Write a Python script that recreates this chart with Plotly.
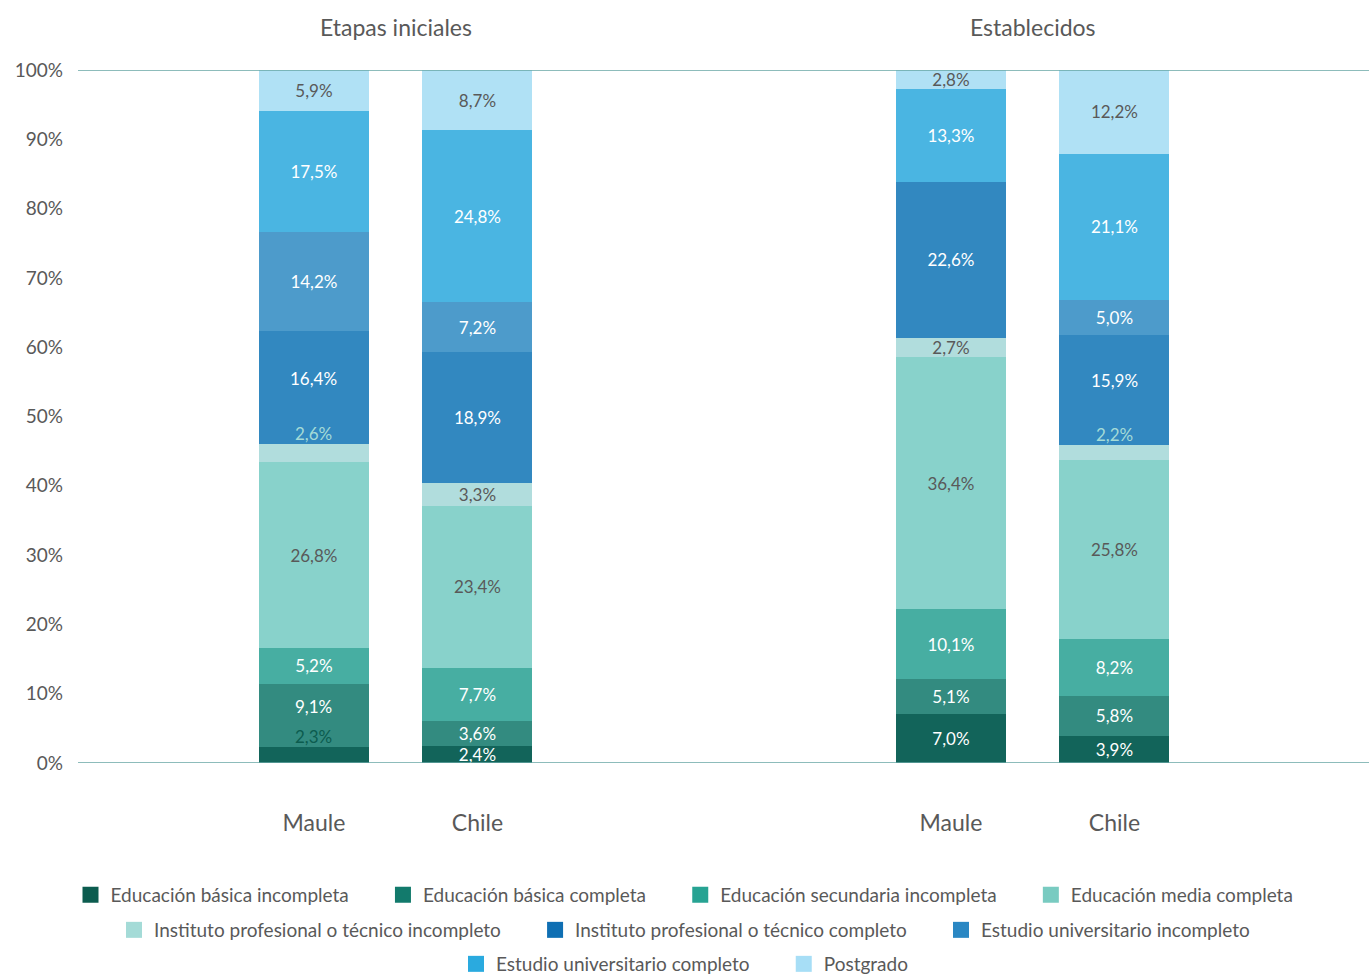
import plotly.graph_objects as go

# Education level of entrepreneurs by stage (percent of each bar)
categories = ["Maule", "Chile"]
groups = ["Etapas iniciales", "Establecidos"]
levels = [
    "Educación básica incompleta",
    "Educación básica completa",
    "Educación secundaria incompleta",
    "Educación media completa",
    "Instituto profesional o técnico incompleto",
    "Instituto profesional o técnico completo",
    "Estudio universitario incompleto",
    "Estudio universitario completo",
    "Postgrado",
]
etapas_maule = [2.3, 9.1, 5.2, 26.8, 2.6, 16.4, 14.2, 17.5, 5.9]
etapas_chile = [2.4, 3.6, 7.7, 23.4, 3.3, 18.9, 7.2, 24.8, 8.7]
estab_maule = [7.0, 5.1, 10.1, 36.4, 2.7, 22.6, 0.0, 13.3, 2.8]
estab_chile = [3.9, 5.8, 8.2, 25.8, 2.2, 15.9, 5.0, 21.1, 12.2]
y_ticks = [0, 10, 20, 30, 40, 50, 60, 70, 80, 90, 100]

# labels of thin segments that sit just above their segment: (group, category, level)
raised_labels = [(0, 0, 0), (0, 0, 4), (1, 1, 4)]

bar_colors = ["#12645a", "#338b80", "#47aea2", "#88d2cb", "#b1dddd",
              "#3288c0", "#4d9bcb", "#4ab5e2", "#b0e1f5"]
legend_colors = ["#0c5c4f", "#127a6c", "#27a393", "#79cbc1", "#a4dbd7",
                 "#0f6fb3", "#2a87c3", "#2aaadf", "#a7def6"]
light_text = [0, 1, 2, 5, 6, 7]
GRAY = "#595959"
FONT = "Lato"
LABEL_SIZE = 17


def fmt(v):
    return f"{v:.1f}".replace(".", ",") + "%"


group_data = [(etapas_maule, etapas_chile), (estab_maule, estab_chile)]
axes = [("x", "y"), ("x2", "y2")]

fig = go.Figure()
annotations = []
for g, (maule, chile) in enumerate(group_data):
    xa, ya = axes[g]
    # segments whose label moves up to clear a raised label below it
    nudged = {(c, i + 1) for (gg, c, i) in raised_labels if gg == g}
    for i, name in enumerate(levels):
        vals = [maule[i], chile[i]]
        texts = []
        for c, v in enumerate(vals):
            if v == 0 or (g, c, i) in raised_labels or (c, i) in nudged:
                texts.append("")
            else:
                texts.append(fmt(v))
        txt_color = "white" if i in light_text else GRAY
        fig.add_trace(go.Bar(
            x=categories, y=vals, name=name, xaxis=xa, yaxis=ya,
            marker=dict(color=bar_colors[i], line=dict(width=0)),
            text=texts, textposition="inside", insidetextanchor="middle",
            textangle=0,
            textfont=dict(family=FONT, size=LABEL_SIZE, color=txt_color),
            showlegend=False, hoverinfo="skip",
        ))
        for c in range(2):
            if (c, i) in nudged:
                seg = group_data[g][c]
                mid = sum(seg[:i]) + seg[i] / 2
                annotations.append(dict(
                    x=categories[c], y=mid, xref=xa, yref=ya, text=fmt(seg[i]),
                    showarrow=False, yanchor="middle", yshift=9,
                    font=dict(family=FONT, size=LABEL_SIZE, color=txt_color),
                ))
    for (gg, c, i) in raised_labels:
        if gg != g:
            continue
        vals = group_data[g][c]
        top = sum(vals[:i + 1])
        annotations.append(dict(
            x=categories[c], y=top, xref=xa, yref=ya, text=fmt(vals[i]),
            showarrow=False, yanchor="bottom", yshift=-2,
            font=dict(family=FONT, size=LABEL_SIZE, color=legend_colors[i]),
        ))
    # group title above the pair of bars
    annotations.append(dict(
        x=0.5, y=1, xref=xa, yref="paper", text=groups[g], showarrow=False,
        yanchor="middle", yshift=43, font=dict(family=FONT, size=23, color=GRAY),
    ))

# legend entries in three centred rows
rows = [[0, 1, 2, 3], [4, 5, 6], [7, 8]]
legend_names = ["legend", "legend2", "legend3"]
GAP = "\u00a0" * 6
for r, idxs in enumerate(rows):
    for k, i in enumerate(idxs):
        label = levels[i] + (GAP if k < len(idxs) - 1 else "")
        fig.add_trace(go.Scatter(
            x=[None], y=[None], mode="markers", name=label,
            marker=dict(symbol="square", size=16, color=legend_colors[i]),
            legend=legend_names[r], showlegend=True, hoverinfo="skip",
        ))

legend_y = [895, 930, 964]
H = 976
legend_common = dict(
    orientation="h", xref="container", yref="container", x=0.5,
    xanchor="center", yanchor="middle", bgcolor="rgba(0,0,0,0)",
    traceorder="normal",
    font=dict(family=FONT, size=19, color=GRAY), itemclick=False,
)

axis_x = dict(showgrid=False, zeroline=False, showline=False, ticks="",
              tickfont=dict(family=FONT, size=23, color=GRAY),
              ticklabelstandoff=44)

fig.update_layout(
    width=1369, height=976, autosize=False, template="none",
    paper_bgcolor="white", plot_bgcolor="white",
    margin=dict(l=78, r=0, t=70, b=213),
    barmode="stack", bargap=0.327,
    uniformtext=dict(minsize=LABEL_SIZE, mode="show"),
    font=dict(family=FONT, color=GRAY),
    xaxis=dict(axis_x, domain=[0, 0.5], range=[-1.443, 2.505]),
    xaxis2=dict(axis_x, domain=[0.5, 1], range=[-1.391, 2.557]),
    yaxis=dict(range=[0, 100], tickvals=y_ticks,
               ticktext=[f"{t}%" for t in y_ticks], showgrid=False,
               zeroline=False, showline=False, ticks="",
               ticklabelstandoff=14,
               tickfont=dict(family=FONT, size=19, color=GRAY)),
    yaxis2=dict(range=[0, 100], matches="y", anchor="x2", showgrid=False,
                zeroline=False, showline=False, showticklabels=False,
                ticks=""),
    annotations=annotations,
    shapes=[dict(type="line", xref="paper", yref="y", x0=0, x1=1, y0=v, y1=v,
                 line=dict(color="#67a6a4", width=1.5), layer="above")
            for v in (0, 100)],
    legend=dict(legend_common, y=(H - legend_y[0]) / H),
    legend2=dict(legend_common, y=(H - legend_y[1]) / H),
    legend3=dict(legend_common, y=(H - legend_y[2]) / H),
)

fig.write_html("out.html")
